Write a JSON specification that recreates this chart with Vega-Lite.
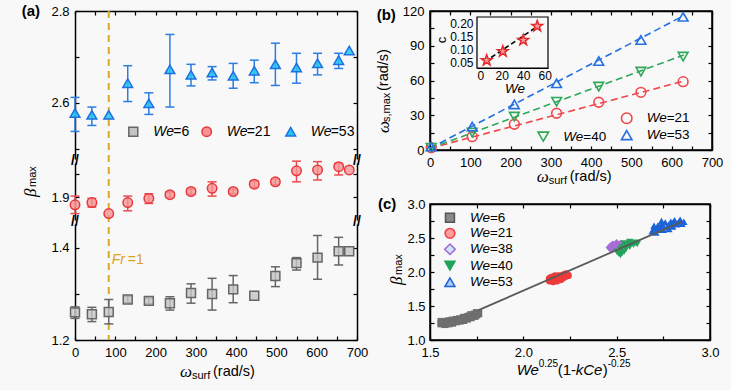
{
"$schema":"https://vega.github.io/schema/vega-lite/v6.json",
"width":637,"height":329,
"autosize":{"type":"none"},
"padding":{"left":75,"top":11,"right":19,"bottom":50},
"background":"#f8f8f8",
"config":{"view":{"stroke":null},"font":"Liberation Sans",
 "axis":{"labelFont":"Liberation Sans","labelFontSize":13,"labelColor":"#000","domainColor":"#000","domainWidth":1.5,"tickColor":"#000","tickWidth":1.2,"tickSize":-4,"labelPadding":10,"grid":false,"labelFlush":false,"labelOverlap":false,"labelBound":false,"zindex":1},
 "text":{"font":"Liberation Sans","color":"#000"}},
"data":{"values":[{}]},
"datasets":{
 "a53":[{"x":0,"y":2.578,"lo":2.538,"hi":2.612},{"x":41.9,"y":2.574,"lo":2.551,"hi":2.591},{"x":83.8,"y":2.574},{"x":130.9,"y":2.643,"lo":2.603,"hi":2.681},{"x":183.3,"y":2.599,"lo":2.575,"hi":2.622},{"x":235.6,"y":2.673,"lo":2.591,"hi":2.749},{"x":288,"y":2.661,"lo":2.637,"hi":2.684},{"x":340.3,"y":2.666,"lo":2.65,"hi":2.679},{"x":392.7,"y":2.659,"lo":2.632,"hi":2.686},{"x":445,"y":2.67,"lo":2.644,"hi":2.693},{"x":497.4,"y":2.684,"lo":2.638,"hi":2.73},{"x":549.8,"y":2.677,"lo":2.643,"hi":2.708},{"x":602.1,"y":2.686,"lo":2.661,"hi":2.708},{"x":654.5,"y":2.693,"lo":2.675,"hi":2.708},{"x":680.7,"y":2.714}],
 "a21":[{"x":0,"y":1.883,"lo":1.864,"hi":1.902},{"x":41.9,"y":1.888,"lo":1.878,"hi":1.897},{"x":83.8,"y":1.864},{"x":130.9,"y":1.888,"lo":1.87,"hi":1.902},{"x":183.3,"y":1.897,"lo":1.886,"hi":1.907},{"x":235.6,"y":1.905,"lo":1.899,"hi":1.911},{"x":288,"y":1.912,"lo":1.906,"hi":1.918},{"x":340.3,"y":1.919,"lo":1.902,"hi":1.933},{"x":392.7,"y":1.912,"lo":1.907,"hi":1.917},{"x":445,"y":1.928,"lo":1.921,"hi":1.935},{"x":497.4,"y":1.933,"lo":1.927,"hi":1.939},{"x":549.8,"y":1.957,"lo":1.933,"hi":1.978},{"x":602.1,"y":1.959,"lo":1.937,"hi":1.977},{"x":654.5,"y":1.966,"lo":1.948,"hi":1.973},{"x":680.7,"y":1.959}],
 "a6":[{"x":0,"y":1.26,"lo":1.247,"hi":1.272},{"x":41.9,"y":1.256,"lo":1.24,"hi":1.271},{"x":83.8,"y":1.261,"lo":1.235,"hi":1.288},{"x":130.9,"y":1.288,"lo":1.281,"hi":1.295},{"x":183.3,"y":1.285,"lo":1.279,"hi":1.291},{"x":235.6,"y":1.28,"lo":1.265,"hi":1.294},{"x":288,"y":1.302,"lo":1.28,"hi":1.322},{"x":340.3,"y":1.3,"lo":1.265,"hi":1.334},{"x":392.7,"y":1.31,"lo":1.281,"hi":1.34},{"x":445,"y":1.296},{"x":497.4,"y":1.339,"lo":1.316,"hi":1.359},{"x":549.8,"y":1.367,"lo":1.352,"hi":1.379},{"x":602.1,"y":1.379,"lo":1.332,"hi":1.427},{"x":654.5,"y":1.393,"lo":1.363,"hi":1.423},{"x":680.7,"y":1.393}],
 "bpts":[{"s":"21","x":3,"y":2},{"s":"21","x":104.7,"y":11.5},{"s":"21","x":209.4,"y":22.2},{"s":"21","x":314.2,"y":31.7},{"s":"21","x":418.9,"y":41.2},{"s":"21","x":523.6,"y":49.8},{"s":"21","x":628.3,"y":59},
  {"s":"40","x":3,"y":2},{"s":"40","x":104.7,"y":15},{"s":"40","x":209.4,"y":28.8},{"s":"40","x":314.2,"y":41.7},{"s":"40","x":418.9,"y":54.7},{"s":"40","x":523.6,"y":67.7},{"s":"40","x":628.3,"y":80.6},
  {"s":"53","x":3,"y":3},{"s":"53","x":104.7,"y":20.2},{"s":"53","x":209.4,"y":39.4},{"s":"53","x":314.2,"y":57.6},{"s":"53","x":418.9,"y":76.8},{"s":"53","x":523.6,"y":95},{"s":"53","x":628.3,"y":115}],
 "bfit":[{"s":"21","x":0,"y":1.5},{"s":"21","x":630,"y":59.5},{"s":"40","x":0,"y":1.5},{"s":"40","x":630,"y":82},{"s":"53","x":0,"y":1.5},{"s":"53","x":630,"y":116}],
 "inset":[{"We":6,"c":0.058},{"We":21,"c":0.092},{"We":40,"c":0.135},{"We":53,"c":0.188}],
 "insetfit":[{"We":4,"c":0.052},{"We":56,"c":0.195}],
 "cpts":[
  {"s":"6","x":1.56,"y":1.24},{"s":"6","x":1.56,"y":1.27},{"s":"6","x":1.57,"y":1.25},{"s":"6","x":1.58,"y":1.23},{"s":"6","x":1.58,"y":1.27},{"s":"6","x":1.59,"y":1.26},{"s":"6","x":1.6,"y":1.24},{"s":"6","x":1.6,"y":1.28},{"s":"6","x":1.61,"y":1.27},{"s":"6","x":1.62,"y":1.25},{"s":"6","x":1.62,"y":1.29},{"s":"6","x":1.63,"y":1.28},{"s":"6","x":1.64,"y":1.27},{"s":"6","x":1.64,"y":1.3},{"s":"6","x":1.65,"y":1.29},{"s":"6","x":1.66,"y":1.28},{"s":"6","x":1.66,"y":1.31},{"s":"6","x":1.67,"y":1.3},{"s":"6","x":1.68,"y":1.29},{"s":"6","x":1.68,"y":1.33},{"s":"6","x":1.69,"y":1.32},{"s":"6","x":1.7,"y":1.31},{"s":"6","x":1.7,"y":1.34},{"s":"6","x":1.71,"y":1.35},{"s":"6","x":1.72,"y":1.33},{"s":"6","x":1.72,"y":1.37},{"s":"6","x":1.73,"y":1.36},{"s":"6","x":1.74,"y":1.38},{"s":"6","x":1.74,"y":1.35},{"s":"6","x":1.75,"y":1.4},{"s":"6","x":1.75,"y":1.37},{"s":"6","x":1.76,"y":1.39},
  {"s":"21","x":2.14,"y":1.87},{"s":"21","x":2.14,"y":1.9},{"s":"21","x":2.15,"y":1.88},{"s":"21","x":2.16,"y":1.86},{"s":"21","x":2.16,"y":1.91},{"s":"21","x":2.17,"y":1.89},{"s":"21","x":2.18,"y":1.87},{"s":"21","x":2.18,"y":1.92},{"s":"21","x":2.19,"y":1.9},{"s":"21","x":2.19,"y":1.94},{"s":"21","x":2.2,"y":1.89},{"s":"21","x":2.2,"y":1.93},{"s":"21","x":2.21,"y":1.91},{"s":"21","x":2.21,"y":1.95},{"s":"21","x":2.22,"y":1.93},{"s":"21","x":2.22,"y":1.96},{"s":"21","x":2.23,"y":1.94},{"s":"21","x":2.23,"y":1.97},{"s":"21","x":2.15,"y":1.92},{"s":"21","x":2.17,"y":1.94},{"s":"21","x":2.24,"y":1.95},
  {"s":"38","x":2.46,"y":2.36},{"s":"38","x":2.47,"y":2.39},{"s":"38","x":2.48,"y":2.34},{"s":"38","x":2.48,"y":2.41},{"s":"38","x":2.49,"y":2.37},{"s":"38","x":2.5,"y":2.4},{"s":"38","x":2.5,"y":2.43},{"s":"38","x":2.51,"y":2.38},{"s":"38","x":2.52,"y":2.42},{"s":"38","x":2.53,"y":2.4},{"s":"38","x":2.47,"y":2.33},
  {"s":"40","x":2.5,"y":2.3},{"s":"40","x":2.51,"y":2.27},{"s":"40","x":2.52,"y":2.33},{"s":"40","x":2.52,"y":2.25},{"s":"40","x":2.53,"y":2.36},{"s":"40","x":2.54,"y":2.3},{"s":"40","x":2.55,"y":2.39},{"s":"40","x":2.55,"y":2.34},{"s":"40","x":2.56,"y":2.41},{"s":"40","x":2.57,"y":2.37},{"s":"40","x":2.58,"y":2.42},{"s":"40","x":2.59,"y":2.4},{"s":"40","x":2.6,"y":2.43},{"s":"40","x":2.61,"y":2.41},{"s":"40","x":2.54,"y":2.42},{"s":"40","x":2.57,"y":2.44},{"s":"40","x":2.53,"y":2.28},
  {"s":"53","x":2.69,"y":2.6},{"s":"53","x":2.7,"y":2.64},{"s":"53","x":2.71,"y":2.58},{"s":"53","x":2.72,"y":2.62},{"s":"53","x":2.72,"y":2.68},{"s":"53","x":2.73,"y":2.65},{"s":"53","x":2.74,"y":2.71},{"s":"53","x":2.75,"y":2.62},{"s":"53","x":2.75,"y":2.67},{"s":"53","x":2.76,"y":2.73},{"s":"53","x":2.77,"y":2.66},{"s":"53","x":2.78,"y":2.7},{"s":"53","x":2.79,"y":2.74},{"s":"53","x":2.8,"y":2.67},{"s":"53","x":2.8,"y":2.72},{"s":"53","x":2.81,"y":2.76},{"s":"53","x":2.82,"y":2.7},{"s":"53","x":2.83,"y":2.73},{"s":"53","x":2.84,"y":2.77},{"s":"53","x":2.85,"y":2.71},{"s":"53","x":2.86,"y":2.74},{"s":"53","x":2.74,"y":2.75},{"s":"53","x":2.78,"y":2.63},{"s":"53","x":2.7,"y":2.68}],
 "cfit":[{"x":1.76,"y":1.44},{"x":2.85,"y":2.74}]
},
"resolve":{"scale":{"x":"independent","y":"independent","color":"independent","shape":"independent","fill":"independent","stroke":"independent"},"axis":{"x":"independent","y":"independent"}},
"layer":[
 {"layer":[
  {"mark":{"type":"rule","opacity":0},"encoding":{
    "x":{"datum":0,"type":"quantitative","scale":{"domain":[0,700],"range":[0,282],"nice":false,"zero":false},"axis":null},
    "y":{"datum":2.8,"type":"quantitative","scale":{"domain":[2.478,2.8],"range":[148,0],"nice":false,"zero":false},"axis":null}}},
  {"mark":{"type":"rule","color":"#E0A629","strokeDash":[7,5],"strokeWidth":2},"encoding":{"x":{"datum":83.8,"axis":null}}},
  {"data":{"name":"a53"},"mark":{"type":"rule","color":"#2b7de0","strokeWidth":1.5},"encoding":{"x":{"field":"x","type":"quantitative","axis":null},"y":{"field":"lo","type":"quantitative","axis":null},"y2":{"field":"hi"}}},
  {"data":{"name":"a53"},"mark":{"type":"tick","orient":"horizontal","color":"#2b7de0","size":9,"thickness":1.5,"opacity":1},"encoding":{"x":{"field":"x","type":"quantitative","axis":null},"y":{"field":"lo","type":"quantitative","axis":null}}},
  {"data":{"name":"a53"},"mark":{"type":"tick","orient":"horizontal","color":"#2b7de0","size":9,"thickness":1.5,"opacity":1},"encoding":{"x":{"field":"x","type":"quantitative","axis":null},"y":{"field":"hi","type":"quantitative","axis":null}}},
  {"data":{"name":"a53"},"mark":{"type":"point","shape":"triangle-up","filled":true,"opacity":1,"fill":"#22c6f2","fillOpacity":0.85,"stroke":"#1f6fe0","strokeWidth":1.5,"size":95},"encoding":{"x":{"field":"x","type":"quantitative","axis":null},"y":{"field":"y","type":"quantitative","axis":null}}},
  {"mark":{"type":"text","text":"(a)","fontWeight":"bold","fontSize":15,"align":"left","baseline":"middle"},"encoding":{"x":{"datum":-132.3,"axis":null},"y":{"datum":2.8,"axis":null}}},
  {"mark":{"type":"point","shape":"square","filled":true,"opacity":1,"fill":"#c4c4c4","stroke":"#666666","strokeWidth":1.5,"size":80},"encoding":{"x":{"datum":144.7,"axis":null},"y":{"datum":2.5374,"axis":null}}},
  {"mark":{"type":"point","shape":"circle","filled":true,"opacity":1,"fill":"#f59393","stroke":"#e8383d","strokeWidth":1.5,"size":90},"encoding":{"x":{"datum":326.9,"axis":null},"y":{"datum":2.5374,"axis":null}}},
  {"mark":{"type":"point","shape":"triangle-up","filled":true,"opacity":1,"fill":"#22c6f2","stroke":"#1f6fe0","strokeWidth":1.5,"size":95},"encoding":{"x":{"datum":535.4,"axis":null},"y":{"datum":2.5374,"axis":null}}},
  {"mark":{"type":"text","text":"We","fontStyle":"italic","fontSize":14,"align":"left","baseline":"middle","dx":20},"encoding":{"x":{"datum":144.7,"axis":null},"y":{"datum":2.5374,"axis":null}}},
  {"mark":{"type":"text","text":"=6","fontSize":14,"align":"left","baseline":"middle","dx":40},"encoding":{"x":{"datum":144.7,"axis":null},"y":{"datum":2.5374,"axis":null}}},
  {"mark":{"type":"text","text":"We","fontStyle":"italic","fontSize":14,"align":"left","baseline":"middle","dx":20},"encoding":{"x":{"datum":326.9,"axis":null},"y":{"datum":2.5374,"axis":null}}},
  {"mark":{"type":"text","text":"=21","fontSize":14,"align":"left","baseline":"middle","dx":40},"encoding":{"x":{"datum":326.9,"axis":null},"y":{"datum":2.5374,"axis":null}}},
  {"mark":{"type":"text","text":"We","fontStyle":"italic","fontSize":14,"align":"left","baseline":"middle","dx":20},"encoding":{"x":{"datum":535.4,"axis":null},"y":{"datum":2.5374,"axis":null}}},
  {"mark":{"type":"text","text":"=53","fontSize":14,"align":"left","baseline":"middle","dx":40},"encoding":{"x":{"datum":535.4,"axis":null},"y":{"datum":2.5374,"axis":null}}},
  {"mark":{"type":"text","text":"//","fontWeight":"bold","fontSize":14,"align":"center","baseline":"middle"},"encoding":{"x":{"datum":0,"axis":null},"y":{"datum":2.4736,"axis":null}}},
  {"mark":{"type":"text","text":"//","fontWeight":"bold","fontSize":14,"align":"center","baseline":"middle"},"encoding":{"x":{"datum":700,"axis":null},"y":{"datum":2.4736,"axis":null}}}
 ]},
 {"mark":{"type":"rule","opacity":0},"encoding":{
    "x":{"datum":0,"type":"quantitative","scale":{"domain":[0,700],"range":[0,282],"nice":false,"zero":false},"axis":{"orient":"top","values":[0,50,100,150,200,250,300,350,400,450,500,550,600,650,700],"labels":false,"title":null}},
    "y":{"datum":2.8,"type":"quantitative","scale":{"domain":[2.478,2.8],"range":[148,0],"nice":false,"zero":false},"axis":{"orient":"left","values":[2.5,2.6,2.7,2.8],"labelExpr":"datum.value===2.6?'2.6':(datum.value===2.8?'2.8':'')","title":null}}}},
 {"mark":{"type":"rule","opacity":0},"encoding":{
    "x":{"datum":0,"type":"quantitative","scale":{"domain":[0,700],"range":[0,282],"nice":false,"zero":false},"axis":null},
    "y":{"datum":2.8,"type":"quantitative","scale":{"domain":[2.478,2.8],"range":[148,0],"nice":false,"zero":false},"axis":{"orient":"right","offset":-355,"values":[2.5,2.6,2.7,2.8],"labels":false,"title":null}}}},
 {"layer":[
  {"mark":{"type":"rule","opacity":0},"encoding":{
    "x":{"datum":0,"type":"quantitative","scale":{"domain":[0,700],"range":[0,282],"nice":false,"zero":false},"axis":null},
    "y":{"datum":1.9,"type":"quantitative","scale":{"domain":[1.85,1.974],"range":[209,152],"nice":false,"zero":false},"axis":null}}},
  {"data":{"name":"a21"},"mark":{"type":"rule","color":"#ec4a4e","strokeWidth":1.5},"encoding":{"x":{"field":"x","type":"quantitative","axis":null},"y":{"field":"lo","type":"quantitative","axis":null},"y2":{"field":"hi"}}},
  {"data":{"name":"a21"},"mark":{"type":"tick","orient":"horizontal","color":"#ec4a4e","size":9,"thickness":1.5,"opacity":1},"encoding":{"x":{"field":"x","type":"quantitative","axis":null},"y":{"field":"lo","type":"quantitative","axis":null}}},
  {"data":{"name":"a21"},"mark":{"type":"tick","orient":"horizontal","color":"#ec4a4e","size":9,"thickness":1.5,"opacity":1},"encoding":{"x":{"field":"x","type":"quantitative","axis":null},"y":{"field":"hi","type":"quantitative","axis":null}}},
  {"data":{"name":"a21"},"mark":{"type":"point","shape":"circle","filled":true,"opacity":1,"fill":"#f59393","fillOpacity":0.8,"stroke":"#e8383d","strokeWidth":1.5,"size":90},"encoding":{"x":{"field":"x","type":"quantitative","axis":null},"y":{"field":"y","type":"quantitative","axis":null}}},
  {"mark":{"type":"text","text":"//","fontWeight":"bold","fontSize":14,"align":"center","baseline":"middle"},"encoding":{"x":{"datum":0,"axis":null},"y":{"datum":1.8456,"axis":null}}},
  {"mark":{"type":"text","text":"//","fontWeight":"bold","fontSize":14,"align":"center","baseline":"middle"},"encoding":{"x":{"datum":700,"axis":null},"y":{"datum":1.8456,"axis":null}}},
  {"mark":{"type":"text","text":"β","font":"Liberation Serif","fontStyle":"italic","fontSize":17,"angle":270,"align":"left","baseline":"middle"},"encoding":{"x":{"datum":-109.2,"axis":null},"y":{"datum":1.9,"axis":null}}},
  {"mark":{"type":"text","text":"max","fontSize":11,"angle":270,"align":"left","baseline":"middle","dx":10,"dy":2},"encoding":{"x":{"datum":-109.2,"axis":null},"y":{"datum":1.9,"axis":null}}}
 ]},
 {"mark":{"type":"rule","opacity":0},"encoding":{
    "x":{"datum":0,"type":"quantitative","scale":{"domain":[0,700],"range":[0,282],"nice":false,"zero":false},"axis":null},
    "y":{"datum":1.9,"type":"quantitative","scale":{"domain":[1.85,1.974],"range":[209,152],"nice":false,"zero":false},"axis":{"orient":"left","values":[1.9,1.95],"labelExpr":"datum.value===1.9?'1.9':''","title":null}}}},
 {"mark":{"type":"rule","opacity":0},"encoding":{
    "x":{"datum":0,"type":"quantitative","scale":{"domain":[0,700],"range":[0,282],"nice":false,"zero":false},"axis":null},
    "y":{"datum":1.9,"type":"quantitative","scale":{"domain":[1.85,1.974],"range":[209,152],"nice":false,"zero":false},"axis":{"orient":"right","offset":-355,"values":[1.9,1.95],"labels":false,"title":null}}}},
 {"layer":[
  {"mark":{"type":"rule","opacity":0},"encoding":{
    "x":{"datum":0,"type":"quantitative","scale":{"domain":[0,700],"range":[0,282],"nice":false,"zero":false},"axis":null},
    "y":{"datum":1.2,"type":"quantitative","scale":{"domain":[1.2,1.452],"range":[329,213],"nice":false,"zero":false},"axis":null}}},
  {"data":{"name":"a6"},"mark":{"type":"rule","color":"#666666","strokeWidth":1.5},"encoding":{"x":{"field":"x","type":"quantitative","axis":null},"y":{"field":"lo","type":"quantitative","axis":null},"y2":{"field":"hi"}}},
  {"data":{"name":"a6"},"mark":{"type":"tick","orient":"horizontal","color":"#666666","size":9,"thickness":1.5,"opacity":1},"encoding":{"x":{"field":"x","type":"quantitative","axis":null},"y":{"field":"lo","type":"quantitative","axis":null}}},
  {"data":{"name":"a6"},"mark":{"type":"tick","orient":"horizontal","color":"#666666","size":9,"thickness":1.5,"opacity":1},"encoding":{"x":{"field":"x","type":"quantitative","axis":null},"y":{"field":"hi","type":"quantitative","axis":null}}},
  {"data":{"name":"a6"},"mark":{"type":"point","shape":"square","filled":true,"opacity":1,"fill":"#c4c4c4","fillOpacity":0.8,"stroke":"#666666","strokeWidth":1.5,"size":80},"encoding":{"x":{"field":"x","type":"quantitative","axis":null},"y":{"field":"y","type":"quantitative","axis":null}}},
  {"mark":{"type":"text","text":"Fr","fontStyle":"italic","fontSize":14,"color":"#D9A21F","align":"left","baseline":"middle"},"encoding":{"x":{"datum":91.1,"axis":null},"y":{"datum":1.3738,"axis":null}}},
  {"mark":{"type":"text","text":"=1","fontSize":14,"color":"#D9A21F","align":"left","baseline":"middle","dx":16},"encoding":{"x":{"datum":91.1,"axis":null},"y":{"datum":1.3738,"axis":null}}},
  {"mark":{"type":"text","text":"ω","font":"Liberation Serif","fontStyle":"italic","fontSize":17,"align":"left","baseline":"middle"},"encoding":{"x":{"datum":260.6,"axis":null},"y":{"datum":1.1305,"axis":null}}},
  {"mark":{"type":"text","text":"surf","fontSize":11,"align":"left","baseline":"middle","dx":12,"dy":4},"encoding":{"x":{"datum":260.6,"axis":null},"y":{"datum":1.1305,"axis":null}}},
  {"mark":{"type":"text","text":"(rad/s)","fontSize":14.5,"align":"left","baseline":"middle","dx":33},"encoding":{"x":{"datum":260.6,"axis":null},"y":{"datum":1.1305,"axis":null}}}
 ]},
 {"mark":{"type":"rule","opacity":0},"encoding":{
    "x":{"datum":0,"type":"quantitative","scale":{"domain":[0,700],"range":[0,282],"nice":false,"zero":false},"axis":{"orient":"bottom","values":[0,50,100,150,200,250,300,350,400,450,500,550,600,650,700],"labelExpr":"datum.value % 100 === 0 ? datum.label : ''","title":null}},
    "y":{"datum":1.2,"type":"quantitative","scale":{"domain":[1.2,1.452],"range":[329,213],"nice":false,"zero":false},"axis":{"orient":"left","values":[1.2,1.3,1.4],"labelExpr":"datum.value===1.2?'1.2':(datum.value===1.4?'1.4':'')","title":null}}}},
 {"mark":{"type":"rule","opacity":0},"encoding":{
    "x":{"datum":0,"type":"quantitative","scale":{"domain":[0,700],"range":[0,282],"nice":false,"zero":false},"axis":null},
    "y":{"datum":1.2,"type":"quantitative","scale":{"domain":[1.2,1.452],"range":[329,213],"nice":false,"zero":false},"axis":{"orient":"right","offset":-355,"values":[1.2,1.3,1.4],"labels":false,"title":null}}}},
 {"layer":[
  {"mark":{"type":"rect","fill":"transparent","stroke":"#000","strokeWidth":1.5},"encoding":{
    "x":{"datum":0,"type":"quantitative","scale":{"domain":[0,700],"range":[355,637],"nice":false,"zero":false},"axis":null},
    "x2":{"datum":700},
    "y":{"datum":0,"type":"quantitative","scale":{"domain":[0,120],"range":[139,0],"nice":false,"zero":false},"axis":null},
    "y2":{"datum":120}}},
  {"data":{"name":"bfit"},"mark":{"type":"line","strokeDash":[7,4],"strokeWidth":1.6},"encoding":{"x":{"field":"x","type":"quantitative","axis":null},"y":{"field":"y","type":"quantitative","axis":null},"color":{"field":"s","type":"nominal","scale":{"domain":["21","40","53"],"range":["#f0484c","#2fa85a","#2470e0"]},"legend":null}}},
  {"data":{"name":"bpts"},"mark":{"type":"point","filled":false,"opacity":1,"strokeWidth":1.6,"size":95},"encoding":{"x":{"field":"x","type":"quantitative","axis":null},"y":{"field":"y","type":"quantitative","axis":null},"color":{"field":"s","type":"nominal","legend":null},"shape":{"field":"s","type":"nominal","scale":{"domain":["21","40","53"],"range":["circle","triangle-down","triangle-up"]},"legend":null}}},
  {"mark":{"type":"text","text":"(b)","fontWeight":"bold","fontSize":15,"align":"left","baseline":"middle"},"encoding":{"x":{"datum":-132.3,"axis":null},"y":{"datum":116.5,"axis":null}}},
  {"mark":{"type":"point","shape":"circle","filled":false,"opacity":1,"color":"#f0484c","strokeWidth":1.6,"size":110},"encoding":{"x":{"datum":488.3,"axis":null},"y":{"datum":27.4,"axis":null}}},
  {"mark":{"type":"point","shape":"triangle-up","filled":false,"opacity":1,"color":"#2470e0","strokeWidth":1.6,"size":110},"encoding":{"x":{"datum":488.3,"axis":null},"y":{"datum":12.9,"axis":null}}},
  {"mark":{"type":"point","shape":"triangle-down","filled":false,"opacity":1,"color":"#2fa85a","strokeWidth":1.6,"size":110},"encoding":{"x":{"datum":281.2,"axis":null},"y":{"datum":11.5,"axis":null}}},
  {"mark":{"type":"text","text":"We","fontStyle":"italic","fontSize":13.5,"align":"left","baseline":"middle","dx":20},"encoding":{"x":{"datum":488.3,"axis":null},"y":{"datum":27.4,"axis":null}}},
  {"mark":{"type":"text","text":"=21","fontSize":13.5,"align":"left","baseline":"middle","dx":40},"encoding":{"x":{"datum":488.3,"axis":null},"y":{"datum":27.4,"axis":null}}},
  {"mark":{"type":"text","text":"We","fontStyle":"italic","fontSize":13.5,"align":"left","baseline":"middle","dx":20},"encoding":{"x":{"datum":488.3,"axis":null},"y":{"datum":12.9,"axis":null}}},
  {"mark":{"type":"text","text":"=53","fontSize":13.5,"align":"left","baseline":"middle","dx":40},"encoding":{"x":{"datum":488.3,"axis":null},"y":{"datum":12.9,"axis":null}}},
  {"mark":{"type":"text","text":"We","fontStyle":"italic","fontSize":13.5,"align":"left","baseline":"middle","dx":20},"encoding":{"x":{"datum":281.2,"axis":null},"y":{"datum":11.5,"axis":null}}},
  {"mark":{"type":"text","text":"=40","fontSize":13.5,"align":"left","baseline":"middle","dx":40},"encoding":{"x":{"datum":281.2,"axis":null},"y":{"datum":11.5,"axis":null}}},
  {"mark":{"type":"text","text":"ω","font":"Liberation Serif","fontStyle":"italic","fontSize":17,"align":"left","baseline":"middle"},"encoding":{"x":{"datum":264.9,"axis":null},"y":{"datum":-23.3,"axis":null}}},
  {"mark":{"type":"text","text":"surf","fontSize":11,"align":"left","baseline":"middle","dx":12,"dy":4},"encoding":{"x":{"datum":264.9,"axis":null},"y":{"datum":-23.3,"axis":null}}},
  {"mark":{"type":"text","text":"(rad/s)","fontSize":14.5,"align":"left","baseline":"middle","dx":33},"encoding":{"x":{"datum":264.9,"axis":null},"y":{"datum":-23.3,"axis":null}}},
  {"mark":{"type":"text","text":"ω","font":"Liberation Serif","fontStyle":"italic","fontSize":17,"angle":270,"align":"left","baseline":"middle"},"encoding":{"x":{"datum":-114.2,"axis":null},"y":{"datum":14.7,"axis":null}}},
  {"mark":{"type":"text","text":"s,max","fontSize":11,"angle":270,"align":"left","baseline":"middle","dx":11,"dy":3},"encoding":{"x":{"datum":-114.2,"axis":null},"y":{"datum":14.7,"axis":null}}},
  {"mark":{"type":"text","text":"(rad/s)","fontSize":14.5,"angle":270,"align":"left","baseline":"middle","dx":42},"encoding":{"x":{"datum":-114.2,"axis":null},"y":{"datum":14.7,"axis":null}}}
 ]},
 {"mark":{"type":"rule","opacity":0},"encoding":{
    "x":{"datum":0,"type":"quantitative","scale":{"domain":[0,700],"range":[355,637],"nice":false,"zero":false},"axis":{"orient":"bottom","offset":-190,"values":[0,50,100,150,200,250,300,350,400,450,500,550,600,650,700],"labelExpr":"datum.value % 100 === 0 ? datum.label : ''","title":null}},
    "y":{"datum":0,"type":"quantitative","scale":{"domain":[0,120],"range":[139,0],"nice":false,"zero":false},"axis":{"orient":"left","offset":-355,"values":[0,15,30,45,60,75,90,105,120],"labelExpr":"datum.value % 30 === 0 ? datum.label : ''","title":null}}}},
 {"mark":{"type":"rule","opacity":0},"encoding":{
    "x":{"datum":0,"type":"quantitative","scale":{"domain":[0,700],"range":[355,637],"nice":false,"zero":false},"axis":{"orient":"top","values":[0,50,100,150,200,250,300,350,400,450,500,550,600,650,700],"labels":false,"title":null}},
    "y":{"datum":0,"type":"quantitative","scale":{"domain":[0,120],"range":[139,0],"nice":false,"zero":false},"axis":{"orient":"right","values":[0,15,30,45,60,75,90,105,120],"labels":false,"title":null}}}},
 {"layer":[
  {"mark":{"type":"rect","fill":"#f8f8f8","stroke":"#000","strokeWidth":1.2},"encoding":{
    "x":{"datum":-3,"type":"quantitative","scale":{"domain":[-3,63],"range":[402,473],"nice":false,"zero":false},"axis":null},
    "x2":{"datum":63},
    "y":{"datum":0.029,"type":"quantitative","scale":{"domain":[0.029,0.223],"range":[57,6],"nice":false,"zero":false},"axis":null},
    "y2":{"datum":0.223}}},
  {"data":{"name":"insetfit"},"mark":{"type":"line","color":"#000","strokeDash":[5,3],"strokeWidth":1.6},"encoding":{"x":{"field":"We","type":"quantitative","axis":null},"y":{"field":"c","type":"quantitative","axis":null}}},
  {"data":{"name":"inset"},"mark":{"type":"point","shape":"M0,-1L0.235,-0.324L0.951,-0.309L0.38,0.124L0.588,0.809L0,0.4L-0.588,0.809L-0.38,0.124L-0.951,-0.309L-0.235,-0.324Z","filled":true,"opacity":1,"fill":"#f39a9a","stroke":"#e32b2b","strokeWidth":1.5,"size":130},"encoding":{"x":{"field":"We","type":"quantitative","axis":null},"y":{"field":"c","type":"quantitative","axis":null}}},
  {"mark":{"type":"text","text":"c","fontSize":13,"angle":270,"align":"center","baseline":"middle"},"encoding":{"x":{"datum":-35.8,"axis":null},"y":{"datum":0.1355,"axis":null}}},
  {"mark":{"type":"text","text":"We","fontStyle":"italic","fontSize":13.5,"align":"center","baseline":"middle"},"encoding":{"x":{"datum":32.3,"axis":null},"y":{"datum":-0.049,"axis":null}}}
 ]},
 {"mark":{"type":"rule","opacity":0},"encoding":{
    "x":{"datum":-3,"type":"quantitative","scale":{"domain":[-3,63],"range":[402,473],"nice":false,"zero":false},"axis":{"orient":"bottom","offset":-272,"values":[0,10,20,30,40,50,60],"labelExpr":"datum.value % 20 === 0 ? datum.label : ''","title":null,"labelFontSize":12,"tickSize":-3,"labelPadding":5,"domainWidth":1.2}},
    "y":{"datum":0.029,"type":"quantitative","scale":{"domain":[0.029,0.223],"range":[57,6],"nice":false,"zero":false},"axis":{"orient":"left","offset":-402,"values":[0.05,0.1,0.15,0.2],"format":".2f","title":null,"labelFontSize":12,"tickSize":-3,"labelPadding":7,"domainWidth":1.2}}}},
 {"layer":[
  {"mark":{"type":"rect","fill":"transparent","stroke":"#000","strokeWidth":1.5},"encoding":{
    "x":{"datum":1.5,"type":"quantitative","scale":{"domain":[1.5,3.0],"range":[355,635],"nice":false,"zero":false},"axis":null},
    "x2":{"datum":3.0},
    "y":{"datum":1.0,"type":"quantitative","scale":{"domain":[1.0,3.0],"range":[329,193],"nice":false,"zero":false},"axis":null},
    "y2":{"datum":3.0}}},
  {"data":{"name":"cpts"},"mark":{"type":"point","filled":true,"opacity":1,"size":55},"encoding":{"x":{"field":"x","type":"quantitative","axis":null},"y":{"field":"y","type":"quantitative","axis":null},"color":{"field":"s","type":"nominal","scale":{"domain":["6","21","38","40","53"],"range":["#6e6e6e","#f03a3a","#a66fd6","#25a35a","#1c62d8"]},"legend":null},"shape":{"field":"s","type":"nominal","scale":{"domain":["6","21","38","40","53"],"range":["square","circle","diamond","triangle-down","triangle-up"]},"legend":null}}},
  {"data":{"name":"cfit"},"mark":{"type":"line","color":"#5a5a5a","strokeWidth":1.8},"encoding":{"x":{"field":"x","type":"quantitative","axis":null},"y":{"field":"y","type":"quantitative","axis":null}}},
  {"mark":{"type":"text","text":"(c)","fontWeight":"bold","fontSize":15,"align":"left","baseline":"middle"},"encoding":{"x":{"datum":1.2214,"axis":null},"y":{"datum":3.0,"axis":null}}},
  {"mark":{"type":"point","shape":"square","filled":true,"opacity":1,"fill":"#8a8a8a","stroke":"#555555","strokeWidth":1.5,"size":80},"encoding":{"x":{"datum":1.607,"axis":null},"y":{"datum":2.799,"axis":null}}},
  {"mark":{"type":"point","shape":"circle","filled":true,"opacity":1,"fill":"#ff9c9c","stroke":"#f03c3c","strokeWidth":1.5,"size":95},"encoding":{"x":{"datum":1.607,"axis":null},"y":{"datum":2.569,"axis":null}}},
  {"mark":{"type":"point","shape":"diamond","filled":true,"opacity":1,"fill":"#cfe5fa","stroke":"#a066d8","strokeWidth":1.5,"size":110},"encoding":{"x":{"datum":1.607,"axis":null},"y":{"datum":2.334,"axis":null}}},
  {"mark":{"type":"point","shape":"triangle-down","filled":true,"opacity":1,"fill":"#22a35a","stroke":"#22a35a","strokeWidth":1.5,"size":100},"encoding":{"x":{"datum":1.607,"axis":null},"y":{"datum":2.093,"axis":null}}},
  {"mark":{"type":"point","shape":"triangle-up","filled":true,"opacity":1,"fill":"#a9cdf3","stroke":"#1f5fd8","strokeWidth":1.5,"size":100},"encoding":{"x":{"datum":1.607,"axis":null},"y":{"datum":1.849,"axis":null}}},
  {"mark":{"type":"text","text":"We","fontStyle":"italic","fontSize":13.5,"align":"left","baseline":"middle","dx":20},"encoding":{"x":{"datum":1.607,"axis":null},"y":{"datum":2.799,"axis":null}}},
  {"mark":{"type":"text","text":"=6","fontSize":13.5,"align":"left","baseline":"middle","dx":40},"encoding":{"x":{"datum":1.607,"axis":null},"y":{"datum":2.799,"axis":null}}},
  {"mark":{"type":"text","text":"We","fontStyle":"italic","fontSize":13.5,"align":"left","baseline":"middle","dx":20},"encoding":{"x":{"datum":1.607,"axis":null},"y":{"datum":2.569,"axis":null}}},
  {"mark":{"type":"text","text":"=21","fontSize":13.5,"align":"left","baseline":"middle","dx":40},"encoding":{"x":{"datum":1.607,"axis":null},"y":{"datum":2.569,"axis":null}}},
  {"mark":{"type":"text","text":"We","fontStyle":"italic","fontSize":13.5,"align":"left","baseline":"middle","dx":20},"encoding":{"x":{"datum":1.607,"axis":null},"y":{"datum":2.334,"axis":null}}},
  {"mark":{"type":"text","text":"=38","fontSize":13.5,"align":"left","baseline":"middle","dx":40},"encoding":{"x":{"datum":1.607,"axis":null},"y":{"datum":2.334,"axis":null}}},
  {"mark":{"type":"text","text":"We","fontStyle":"italic","fontSize":13.5,"align":"left","baseline":"middle","dx":20},"encoding":{"x":{"datum":1.607,"axis":null},"y":{"datum":2.093,"axis":null}}},
  {"mark":{"type":"text","text":"=40","fontSize":13.5,"align":"left","baseline":"middle","dx":40},"encoding":{"x":{"datum":1.607,"axis":null},"y":{"datum":2.093,"axis":null}}},
  {"mark":{"type":"text","text":"We","fontStyle":"italic","fontSize":13.5,"align":"left","baseline":"middle","dx":20},"encoding":{"x":{"datum":1.607,"axis":null},"y":{"datum":1.849,"axis":null}}},
  {"mark":{"type":"text","text":"=53","fontSize":13.5,"align":"left","baseline":"middle","dx":40},"encoding":{"x":{"datum":1.607,"axis":null},"y":{"datum":1.849,"axis":null}}},
  {"mark":{"type":"text","text":"β","font":"Liberation Serif","fontStyle":"italic","fontSize":17,"angle":270,"align":"left","baseline":"middle"},"encoding":{"x":{"datum":1.3232,"axis":null},"y":{"datum":1.809,"axis":null}}},
  {"mark":{"type":"text","text":"max","fontSize":11,"angle":270,"align":"left","baseline":"middle","dx":10,"dy":2},"encoding":{"x":{"datum":1.3232,"axis":null},"y":{"datum":1.809,"axis":null}}},
  {"mark":{"type":"text","text":"We","fontStyle":"italic","fontSize":15,"align":"left","baseline":"middle"},"encoding":{"x":{"datum":1.9645,"axis":null},"y":{"datum":0.559,"axis":null}}},
  {"mark":{"type":"text","text":"0.25","fontSize":10,"align":"left","baseline":"middle","dx":22,"dy":-6},"encoding":{"x":{"datum":1.9645,"axis":null},"y":{"datum":0.559,"axis":null}}},
  {"mark":{"type":"text","text":"(1-","fontSize":15,"align":"left","baseline":"middle","dx":41},"encoding":{"x":{"datum":1.9645,"axis":null},"y":{"datum":0.559,"axis":null}}},
  {"mark":{"type":"text","text":"kCe","fontStyle":"italic","fontSize":15,"align":"left","baseline":"middle","dx":59},"encoding":{"x":{"datum":1.9645,"axis":null},"y":{"datum":0.559,"axis":null}}},
  {"mark":{"type":"text","text":")","fontSize":15,"align":"left","baseline":"middle","dx":86},"encoding":{"x":{"datum":1.9645,"axis":null},"y":{"datum":0.559,"axis":null}}},
  {"mark":{"type":"text","text":"-0.25","fontSize":10,"align":"left","baseline":"middle","dx":91,"dy":-6},"encoding":{"x":{"datum":1.9645,"axis":null},"y":{"datum":0.559,"axis":null}}}
 ]},
 {"mark":{"type":"rule","opacity":0},"encoding":{
    "x":{"datum":1.5,"type":"quantitative","scale":{"domain":[1.5,3.0],"range":[355,635],"nice":false,"zero":false},"axis":{"orient":"bottom","values":[1.5,1.75,2,2.25,2.5,2.75,3],"format":".1f","labelExpr":"(datum.value*2)%1===0?datum.label:''","title":null}},
    "y":{"datum":1.0,"type":"quantitative","scale":{"domain":[1.0,3.0],"range":[329,193],"nice":false,"zero":false},"axis":{"orient":"left","offset":-355,"values":[1,1.25,1.5,1.75,2,2.25,2.5,2.75,3],"format":".1f","labelExpr":"(datum.value*2)%1===0?datum.label:''","title":null,"labelPadding":9}}}},
 {"mark":{"type":"rule","opacity":0},"encoding":{
    "x":{"datum":1.5,"type":"quantitative","scale":{"domain":[1.5,3.0],"range":[355,635],"nice":false,"zero":false},"axis":{"orient":"top","offset":-193,"values":[1.5,1.75,2,2.25,2.5,2.75,3],"labels":false,"title":null}},
    "y":{"datum":1.0,"type":"quantitative","scale":{"domain":[1.0,3.0],"range":[329,193],"nice":false,"zero":false},"axis":{"orient":"right","offset":-2,"values":[1,1.25,1.5,1.75,2,2.25,2.5,2.75,3],"labels":false,"title":null}}}}
]
}
